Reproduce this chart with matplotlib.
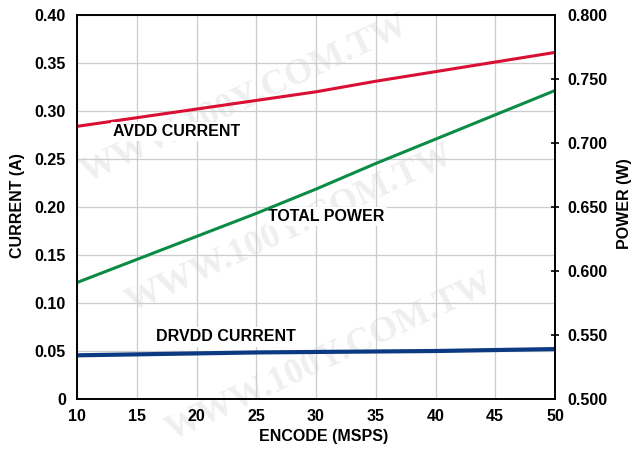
import matplotlib
matplotlib.use("Agg")
import matplotlib.pyplot as plt
import numpy as np

# encode rate (MSPS)
encode = [10, 15, 20, 25, 30, 35, 40, 45, 50]
avdd_current = [0.284, 0.293, 0.302, 0.311, 0.320, 0.331, 0.341, 0.351, 0.361]
drvdd_current = [0.0455, 0.0465, 0.0475, 0.0485, 0.049, 0.0495, 0.050, 0.051, 0.052]
total_power = [0.591, 0.609, 0.627, 0.645, 0.664, 0.684, 0.703, 0.722, 0.741]

current_ticks = [0, 0.05, 0.10, 0.15, 0.20, 0.25, 0.30, 0.35, 0.40]
current_labels = ["0", "0.05", "0.10", "0.15", "0.20", "0.25", "0.30", "0.35", "0.40"]
power_ticks = [0.500, 0.550, 0.600, 0.650, 0.700, 0.750, 0.800]
power_labels = ["0.500", "0.550", "0.600", "0.650", "0.700", "0.750", "0.800"]

plt.rcParams['font.family'] = ['Liberation Sans', 'DejaVu Sans']
plt.rcParams['font.weight'] = 'bold'
FS = 11.5

fig = plt.figure(figsize=(6.33, 4.5), dpi=100)
ax = fig.add_axes([77/633, 51/450, 478/633, 384/450])

# faint watermark, behind the axes
for (x, y) in [(245, 100), (290, 230), (330, 358)]:
    fig.text(x/633, 1 - y/450, "WWW.100Y.COM.TW", fontsize=26, family='Liberation Serif',
             fontweight='bold', color='#efefef', rotation=25, ha='center', va='center', zorder=-1)

ax.set_xlim(10, 50)
ax.set_ylim(0, 0.40)
ax.set_xticks(encode)
ax.set_yticks(current_ticks)
ax.set_yticklabels(current_labels)
ax.grid(True, color='#cccccc', linewidth=0.9)
ax.set_axisbelow(True)
ax.patch.set_alpha(0)
ax.tick_params(axis='both', length=0, labelsize=FS)
ax.tick_params(axis='y', pad=8)
ax.tick_params(axis='x', pad=7)
for sp in ax.spines.values():
    sp.set_linewidth(1.2)

ax.plot(encode, avdd_current, color='#d90f33', linewidth=2.2, solid_capstyle='butt')
ax.plot(encode, drvdd_current, color='#0c3a82', linewidth=3.0, solid_capstyle='butt')

ax2 = ax.twinx()
ax2.set_ylim(0.5, 0.8)
ax2.set_yticks(power_ticks)
ax2.set_yticklabels(power_labels)
ax2.tick_params(axis='y', direction='inout', length=6, width=1.2, pad=6, labelsize=FS)
ticks = ax2.yaxis.get_major_ticks()
ticks[0].tick2line.set_visible(False)
ticks[-1].tick2line.set_visible(False)
ax2.plot(encode, total_power, color='#0a8c45', linewidth=2.2, solid_capstyle='butt')
for sp in ax2.spines.values():
    sp.set_linewidth(1.2)

box = dict(facecolor='white', edgecolor='none', pad=1.5)
ax.text(13.0, 0.279, "AVDD CURRENT", fontsize=FS, fontweight='bold', va='center', ha='left', bbox=box)
ax.text(26.0, 0.190, "TOTAL POWER", fontsize=FS, fontweight='bold', va='center', ha='left', bbox=box)
ax.text(16.6, 0.0646, "DRVDD CURRENT", fontsize=FS, fontweight='bold', va='center', ha='left', bbox=box)

fig.text(18/633, 1 - 206/450, "CURRENT (A)", rotation=90, fontsize=FS, fontweight='bold',
         ha='center', va='center')
fig.text(625/633, 1 - 204/450, "POWER (W)", rotation=90, fontsize=FS, fontweight='bold',
         ha='center', va='center')
fig.text(324/633, 1 - 436/450, "ENCODE (MSPS)", fontsize=FS, fontweight='bold',
         ha='center', va='center')

fig.savefig("out.png", dpi=100)
